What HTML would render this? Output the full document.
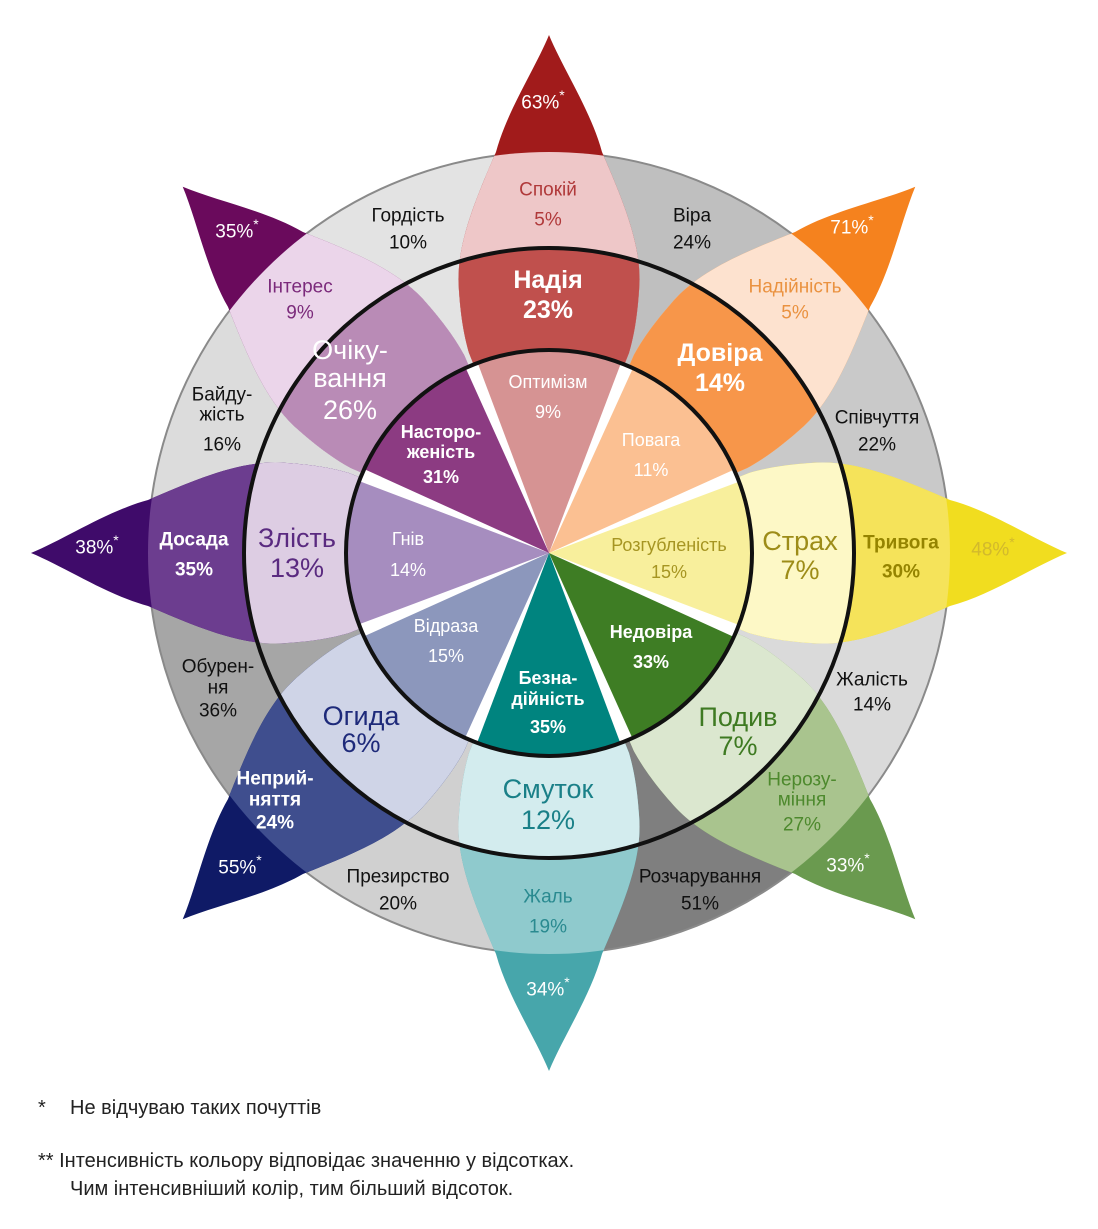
<!DOCTYPE html>
<html><head><meta charset="utf-8"><style>
html,body{margin:0;padding:0;background:#fff;}
svg{display:block;}
text{font-family:"Liberation Sans","DejaVu Sans",sans-serif;}
</style></head><body>
<svg width="1098" height="1229" viewBox="0 0 1098 1229" xmlns="http://www.w3.org/2000/svg">
<defs>
<path id="pet" d="M0,-518 C14,-484 42,-442 53,-401 C75,-350 94,-305 90,-262 C88,-232 84,-214 80,-200 L0,0 L-80,-200 C-84,-214 -88,-232 -90,-262 C-94,-305 -75,-350 -53,-401 C-42,-442 -14,-484 0,-518 Z"/>
<path id="sec" d="M0,0 L153.5,-370.5 A401,401 0 0 1 370.5,-153.5 Z"/>
<path id="wed" d="M0,0 L-77.7,-187.5 A203,203 0 0 1 77.7,-187.5 Z"/>
<clipPath id="c401"><circle cx="0" cy="0" r="401"/></clipPath>
<clipPath id="c305"><circle cx="0" cy="0" r="305"/></clipPath>
</defs>
<g transform="translate(549,553)">
<use href="#sec" fill="#bfbfbf" transform="rotate(-22.5)"/>
<use href="#sec" fill="#c9c9c9" transform="rotate(22.5)"/>
<use href="#sec" fill="#dadada" transform="rotate(67.5)"/>
<use href="#sec" fill="#7f7f7f" transform="rotate(112.5)"/>
<use href="#sec" fill="#d0d0d0" transform="rotate(157.5)"/>
<use href="#sec" fill="#a6a6a6" transform="rotate(202.5)"/>
<use href="#sec" fill="#dcdcdc" transform="rotate(247.5)"/>
<use href="#sec" fill="#e3e3e3" transform="rotate(292.5)"/>
<circle r="401" fill="none" stroke="#8a8a8a" stroke-width="2"/>

<g transform="rotate(0)"><use href="#pet" fill="#a11b1b"/><use href="#pet" fill="#eec7c8" clip-path="url(#c401)"/><use href="#pet" fill="#c0504d" clip-path="url(#c305)"/></g>
<g transform="rotate(45)"><use href="#pet" fill="#f5821e"/><use href="#pet" fill="#fde2cf" clip-path="url(#c401)"/><use href="#pet" fill="#f7964a" clip-path="url(#c305)"/></g>
<g transform="rotate(90)"><use href="#pet" fill="#f1dd1f"/><use href="#pet" fill="#f5e35a" clip-path="url(#c401)"/><use href="#pet" fill="#fdf8c6" clip-path="url(#c305)"/></g>
<g transform="rotate(135)"><use href="#pet" fill="#6a9a4f"/><use href="#pet" fill="#a9c48e" clip-path="url(#c401)"/><use href="#pet" fill="#dbe7cf" clip-path="url(#c305)"/></g>
<g transform="rotate(180)"><use href="#pet" fill="#47a6ab"/><use href="#pet" fill="#8fcacd" clip-path="url(#c401)"/><use href="#pet" fill="#d3ecee" clip-path="url(#c305)"/></g>
<g transform="rotate(225)"><use href="#pet" fill="#0f1a66"/><use href="#pet" fill="#3f4e8e" clip-path="url(#c401)"/><use href="#pet" fill="#cfd4e7" clip-path="url(#c305)"/></g>
<g transform="rotate(270)"><use href="#pet" fill="#3f0b6a"/><use href="#pet" fill="#6c3d8f" clip-path="url(#c401)"/><use href="#pet" fill="#ddcde3" clip-path="url(#c305)"/></g>
<g transform="rotate(315)"><use href="#pet" fill="#6a0a5c"/><use href="#pet" fill="#ebd5ea" clip-path="url(#c401)"/><use href="#pet" fill="#b98bb6" clip-path="url(#c305)"/></g>

<use href="#wed" fill="#d69393" transform="rotate(0)"/>
<use href="#wed" fill="#fbc092" transform="rotate(45)"/>
<use href="#wed" fill="#f8ef9c" transform="rotate(90)"/>
<use href="#wed" fill="#3e7d24" transform="rotate(135)"/>
<use href="#wed" fill="#00847f" transform="rotate(180)"/>
<use href="#wed" fill="#8c97bc" transform="rotate(225)"/>
<use href="#wed" fill="#a68dbf" transform="rotate(270)"/>
<use href="#wed" fill="#8c3b82" transform="rotate(315)"/>
<g fill="#fff">
<polygon points="0,0 72,-190 84,-185" transform="rotate(0)"/>
<polygon points="0,0 72,-190 84,-185" transform="rotate(45)"/>
<polygon points="0,0 72,-190 84,-185" transform="rotate(90)"/>
<polygon points="0,0 72,-190 84,-185" transform="rotate(135)"/>
<polygon points="0,0 72,-190 84,-185" transform="rotate(180)"/>
<polygon points="0,0 72,-190 84,-185" transform="rotate(225)"/>
<polygon points="0,0 72,-190 84,-185" transform="rotate(270)"/>
<polygon points="0,0 72,-190 84,-185" transform="rotate(315)"/>
</g>
<circle r="305" fill="none" stroke="#111" stroke-width="4"/>
<circle r="203" fill="none" stroke="#111" stroke-width="4"/>
</g>

<g text-anchor="middle" dominant-baseline="central">
<g font-size="19" fill="#fff">
<text x="543" y="103">63%<tspan dy="-8" font-size="14">*</tspan></text>
<text x="852" y="228">71%<tspan dy="-8" font-size="14">*</tspan></text>
<text x="993" y="550" fill="#d2b92c">48%<tspan dy="-8" font-size="14">*</tspan></text>
<text x="848" y="866">33%<tspan dy="-8" font-size="14">*</tspan></text>
<text x="548" y="990">34%<tspan dy="-8" font-size="14">*</tspan></text>
<text x="240" y="868">55%<tspan dy="-8" font-size="14">*</tspan></text>
<text x="97" y="548">38%<tspan dy="-8" font-size="14">*</tspan></text>
<text x="237" y="232">35%<tspan dy="-8" font-size="14">*</tspan></text>
</g>
<g font-size="19" fill="#111">
<text x="408" y="216">Гордість</text><text x="408" y="243">10%</text>
<text x="692" y="216">Віра</text><text x="692" y="243">24%</text>
<text x="877" y="418">Співчуття</text><text x="877" y="445">22%</text>
<text x="872" y="680">Жалість</text><text x="872" y="705">14%</text>
<text x="700" y="877">Розчарування</text><text x="700" y="904">51%</text>
<text x="398" y="877">Презирство</text><text x="398" y="904">20%</text>
<text x="218" y="667">Обурен-</text><text x="218" y="688">ня</text><text x="218" y="711">36%</text>
<text x="222" y="395">Байду-</text><text x="222" y="415">жість</text><text x="222" y="445">16%</text>
</g>
<g font-size="19">
<text x="548" y="190" fill="#b0393a">Спокій</text><text x="548" y="220" fill="#b0393a">5%</text>
<text x="795" y="287" fill="#ea9240">Надійність</text><text x="795" y="313" fill="#ea9240">5%</text>
<text x="901" y="543" fill="#958400" font-weight="bold">Тривога</text><text x="901" y="572" fill="#958400" font-weight="bold">30%</text>
<text x="802" y="780" fill="#4d892d">Нерозу-</text><text x="802" y="800" fill="#4d892d">міння</text><text x="802" y="825" fill="#4d892d">27%</text>
<text x="548" y="897" fill="#2a8a90">Жаль</text><text x="548" y="927" fill="#2a8a90">19%</text>
<text x="275" y="779" fill="#fff" font-weight="bold">Неприй-</text><text x="275" y="800" fill="#fff" font-weight="bold">няття</text><text x="275" y="823" fill="#fff" font-weight="bold">24%</text>
<text x="194" y="540" fill="#fff" font-weight="bold">Досада</text><text x="194" y="570" fill="#fff" font-weight="bold">35%</text>
<text x="300" y="287" fill="#7b2a7b">Інтерес</text><text x="300" y="313" fill="#7b2a7b">9%</text>
</g>
<g font-size="27">
<text x="548" y="280" fill="#fff" font-weight="bold" font-size="25">Надія</text><text x="548" y="310" fill="#fff" font-weight="bold" font-size="25">23%</text>
<text x="720" y="353" fill="#fff" font-weight="bold" font-size="25">Довіра</text><text x="720" y="383" fill="#fff" font-weight="bold" font-size="25">14%</text>
<text x="800" y="541" fill="#9d8c18">Страх</text><text x="800" y="570" fill="#9d8c18">7%</text>
<text x="738" y="717" fill="#3e7a22">Подив</text><text x="738" y="746" fill="#3e7a22">7%</text>
<text x="548" y="789" fill="#1a8088">Смуток</text><text x="548" y="820" fill="#1a8088">12%</text>
<text x="361" y="716" fill="#1e2a7a">Огида</text><text x="361" y="743" fill="#1e2a7a">6%</text>
<text x="297" y="538" fill="#5a2a80">Злість</text><text x="297" y="568" fill="#5a2a80">13%</text>
<text x="350" y="350" fill="#fff">Очіку-</text><text x="350" y="378" fill="#fff">вання</text><text x="350" y="410" fill="#fff">26%</text>
</g>
<g font-size="18" fill="#fff">
<text x="548" y="382">Оптимізм</text><text x="548" y="412">9%</text>
<text x="651" y="440">Повага</text><text x="651" y="470">11%</text>
<text x="669" y="545" fill="#a69522">Розгубленість</text><text x="669" y="572" fill="#a69522">15%</text>
<text x="651" y="632" font-weight="bold">Недовіра</text><text x="651" y="662" font-weight="bold">33%</text>
<text x="548" y="678" font-weight="bold">Безна-</text><text x="548" y="699" font-weight="bold">дійність</text><text x="548" y="727" font-weight="bold">35%</text>
<text x="446" y="626">Відраза</text><text x="446" y="656">15%</text>
<text x="408" y="539">Гнів</text><text x="408" y="570">14%</text>
<text x="441" y="432" font-weight="bold">Насторо-</text><text x="441" y="452" font-weight="bold">женість</text><text x="441" y="477" font-weight="bold">31%</text>
</g>
</g>
<g font-size="20" fill="#222">
<text x="38" y="1114">*</text><text x="70" y="1114">Не відчуваю таких почуттів</text>
<text x="38" y="1167">** Інтенсивність кольору відповідає значенню у відсотках.</text>
<text x="70" y="1195">Чим інтенсивніший колір, тим більший відсоток.</text>
</g>
</svg>
</body></html>
